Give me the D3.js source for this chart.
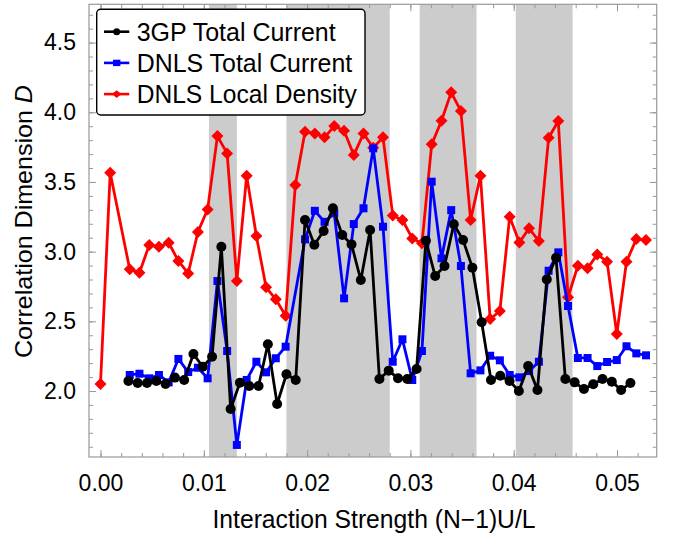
<!DOCTYPE html>
<html>
<head>
<meta charset="utf-8">
<script src="https://cdn.jsdelivr.net/npm/d3@7"></script>
<style>
  body { margin: 0; background: #fff; }
  svg { display: block; font-family: "Liberation Sans", Arial, sans-serif; }
</style>
</head>
<body>
<script>
// DNLS grid (red + blue) and 3GP grid (black)
var redX = [0, 0.00094, 0.00283, 0.00377, 0.00472, 0.00566, 0.00660, 0.00754, 0.00849, 0.00943,
  0.01037, 0.01132, 0.01226, 0.01320, 0.01415, 0.01509, 0.01603, 0.01697, 0.01792, 0.01886,
  0.01980, 0.02075, 0.02169, 0.02263, 0.02358, 0.02452, 0.02546, 0.02640, 0.02735, 0.02829,
  0.02923, 0.03018, 0.03112, 0.03206, 0.03301, 0.03395, 0.03489, 0.03583, 0.03678, 0.03772,
  0.03866, 0.03961, 0.04055, 0.04149, 0.04244, 0.04338, 0.04432, 0.04526, 0.04621, 0.04715,
  0.04809, 0.04904, 0.04998, 0.05092, 0.05187, 0.05281];
var redY = [2.05, 3.566, 2.873, 2.849, 3.047, 3.035, 3.064, 2.933, 2.844, 3.141,
  3.303, 3.829, 3.705, 2.789, 3.545, 3.112, 2.744, 2.658, 2.540, 3.478,
  3.860, 3.848, 3.820, 3.901, 3.867, 3.693, 3.848, 3.745, 3.820, 3.260,
  3.227, 3.095, 3.060, 3.770, 3.939, 4.143, 4.009, 3.227, 3.545, 2.516,
  2.574, 3.250, 3.066, 3.167, 3.076, 3.817, 3.937, 2.672, 2.899, 2.880,
  2.980, 2.928, 2.409, 2.928, 3.090, 3.083];

var blueX = [0.00283, 0.00377, 0.00472, 0.00566, 0.00660, 0.00754, 0.00849, 0.00943,
  0.01037, 0.01132, 0.01226, 0.01320, 0.01415, 0.01509, 0.01603, 0.01697, 0.01792,
  0.01980, 0.02075, 0.02169, 0.02263, 0.02358, 0.02452, 0.02546, 0.02640, 0.02735, 0.02829,
  0.02923, 0.03018, 0.03112, 0.03206, 0.03301, 0.03395, 0.03489, 0.03583, 0.03678, 0.03772,
  0.03866, 0.03961, 0.04055, 0.04149, 0.04244, 0.04338, 0.04432, 0.04526, 0.04621, 0.04715,
  0.04809, 0.04904, 0.04998, 0.05092, 0.05187, 0.05281];
var blueY = [2.115, 2.124, 2.091, 2.115, 2.062, 2.230, 2.136, 2.167,
  2.091, 2.789, 2.287, 1.613, 2.079, 2.210, 2.134, 2.235, 2.318,
  3.088, 3.293, 3.214, 3.275, 2.665, 3.198, 3.311, 3.741, 3.179, 2.210,
  2.371, 2.079, 2.287, 3.502, 2.952, 3.298, 2.897, 2.127, 2.148, 2.253,
  2.220, 2.115, 2.098, 2.143, 2.210, 2.863, 2.995, 2.610, 2.237, 2.237,
  2.179, 2.208, 2.222, 2.321, 2.270, 2.256];

var blackX = [0.0027, 0.0036, 0.0045, 0.0054, 0.0063, 0.0072, 0.0081, 0.0090, 0.0099, 0.0108,
  0.0117, 0.0126, 0.0135, 0.0144, 0.0153, 0.0162, 0.0171, 0.0180, 0.0189, 0.0198,
  0.0207, 0.0216, 0.0225, 0.0234, 0.0243, 0.0252, 0.0261, 0.0270, 0.0279, 0.0288,
  0.0297, 0.0306, 0.0315, 0.0324, 0.0333, 0.0342, 0.0351, 0.0360, 0.0369, 0.0378,
  0.0387, 0.0396, 0.0405, 0.0414, 0.0423, 0.0432, 0.0441, 0.0450, 0.0459, 0.0468,
  0.0477, 0.0486, 0.0495, 0.0504, 0.0513];
var blackY = [2.072, 2.057, 2.057, 2.072, 2.050, 2.096, 2.079, 2.265, 2.174, 2.246,
  3.035, 1.871, 2.060, 2.036, 2.036, 2.335, 1.907, 2.120, 2.079, 3.227,
  3.050, 3.148, 3.311, 3.119, 3.052, 2.796, 3.155, 2.086, 2.146, 2.091,
  2.086, 2.158, 3.078, 2.825, 2.897, 3.196, 3.083, 2.885, 2.493, 2.079,
  2.110, 2.072, 2.000, 2.179, 2.007, 2.801, 2.956, 2.086, 2.062, 2.014,
  2.048, 2.086, 2.067, 2.007, 2.057];

// shaded bands
var bandStart = [0.0105, 0.0180, 0.0309, 0.0402];
var bandEnd = [0.0132, 0.0280, 0.0364, 0.0457];

var xTicks = [0, 0.01, 0.02, 0.03, 0.04, 0.05];
var yTicks = [2.0, 2.5, 3.0, 3.5, 4.0, 4.5];

var seriesNames = ["3GP Total Current", "DNLS Total Current", "DNLS Local Density"];
var seriesColors = ["#000000", "#0000ff", "#ff0000"];

var svgWidth = 673, svgHeight = 535;
var plotLeft = 89, plotRight = 656.7, plotTop = 4.3, plotBottom = 457;

var svg = d3.select("body").append("svg")
  .attr("width", svgWidth)
  .attr("height", svgHeight);

var xScale = d3.scaleLinear().domain([-0.001113, 0.053843]).range([plotLeft, plotRight]);
var yScale = d3.scaleLinear().domain([1.5264, 4.7749]).range([plotBottom, plotTop]);

// bands
svg.append("g").selectAll("rect")
  .data(bandStart)
  .enter().append("rect")
  .attr("x", (d, i) => xScale(d))
  .attr("y", plotTop)
  .attr("width", (d, i) => xScale(bandEnd[i]) - xScale(d))
  .attr("height", plotBottom - plotTop)
  .attr("fill", "#cccccc");

// axes (ticks inward, on all four sides)
var frameColor = "#999999";
var minorX = d3.range(0, 0.0539, 0.002);
var minorY = d3.range(1.6, 4.78, 0.1);

function styleAxis(g) {
  g.select(".domain").remove();
  g.selectAll("line").attr("stroke", frameColor);
}

svg.append("g").attr("transform", `translate(0,${plotBottom})`)
  .call(d3.axisBottom(xScale).tickValues(minorX).tickSize(-4).tickFormat(""))
  .call(styleAxis);
svg.append("g").attr("transform", `translate(0,${plotBottom})`)
  .call(d3.axisBottom(xScale).tickValues(xTicks).tickSize(-7).tickPadding(18)
    .tickFormat(d3.format(".2f")))
  .call(styleAxis)
  .call(g => g.selectAll("text").attr("font-size", 23).attr("fill", "#000")
    .attr("font-family", "Liberation Sans, Arial, sans-serif"));
svg.append("g").attr("transform", `translate(0,${plotTop})`)
  .call(d3.axisTop(xScale).tickValues(minorX).tickSize(-4).tickFormat(""))
  .call(styleAxis);
svg.append("g").attr("transform", `translate(0,${plotTop})`)
  .call(d3.axisTop(xScale).tickValues(xTicks).tickSize(-7).tickFormat(""))
  .call(styleAxis);

svg.append("g").attr("transform", `translate(${plotLeft},0)`)
  .call(d3.axisLeft(yScale).tickValues(minorY).tickSize(-4).tickFormat(""))
  .call(styleAxis);
svg.append("g").attr("transform", `translate(${plotLeft},0)`)
  .call(d3.axisLeft(yScale).tickValues(yTicks).tickSize(-7).tickPadding(13)
    .tickFormat(d3.format(".1f")))
  .call(styleAxis)
  .call(g => g.selectAll("text").attr("font-size", 23).attr("fill", "#000")
    .attr("font-family", "Liberation Sans, Arial, sans-serif"));
svg.append("g").attr("transform", `translate(${plotRight},0)`)
  .call(d3.axisRight(yScale).tickValues(minorY).tickSize(-4).tickFormat(""))
  .call(styleAxis);
svg.append("g").attr("transform", `translate(${plotRight},0)`)
  .call(d3.axisRight(yScale).tickValues(yTicks).tickSize(-7).tickFormat(""))
  .call(styleAxis);

svg.append("rect")
  .attr("x", plotLeft).attr("y", plotTop)
  .attr("width", plotRight - plotLeft).attr("height", plotBottom - plotTop)
  .attr("fill", "none").attr("stroke", frameColor).attr("stroke-width", 1.2);

// series
var diamond = "M0,-6L6,0L0,6L-6,0Z";
var square = "M-4,-4H4V4H-4Z";

function drawSeries(xs, ys, color, marker) {
  var pts = xs.map((x, i) => [x, ys[i]]);
  var line = d3.line().x(d => xScale(d[0])).y(d => yScale(d[1]));
  var g = svg.append("g");
  g.append("path").datum(pts)
    .attr("d", line)
    .attr("fill", "none")
    .attr("stroke", color)
    .attr("stroke-width", 2.8)
    .attr("stroke-linejoin", "round");
  var m = g.selectAll(".pt").data(pts).enter();
  if (marker === "circle") {
    m.append("circle").attr("cx", d => xScale(d[0])).attr("cy", d => yScale(d[1]))
      .attr("r", 5).attr("fill", color);
  } else {
    m.append("path").attr("d", marker === "square" ? square : diamond)
      .attr("transform", d => `translate(${xScale(d[0])},${yScale(d[1])})`)
      .attr("fill", color);
  }
}

drawSeries(redX, redY, seriesColors[2], "diamond");
drawSeries(blueX, blueY, seriesColors[1], "square");
drawSeries(blackX, blackY, seriesColors[0], "circle");

// legend
var legend = svg.append("g");
legend.append("rect")
  .attr("x", 96.7).attr("y", 9.3)
  .attr("width", 268.3).attr("height", 105.7)
  .attr("rx", 4)
  .attr("fill", "#fff").attr("stroke", "#000").attr("stroke-width", 1.4);

var legendMarkers = ["circle", "square", "diamond"];
var legendWidths = [199, 215.5, 220];
seriesNames.forEach(function(name, i) {
  var cy = 31.7 + i * 31.2;
  legend.append("line")
    .attr("x1", 104).attr("x2", 129.3).attr("y1", cy).attr("y2", cy)
    .attr("stroke", seriesColors[i]).attr("stroke-width", 2.6);
  if (legendMarkers[i] === "circle") {
    legend.append("circle").attr("cx", 116.7).attr("cy", cy).attr("r", 3.5).attr("fill", seriesColors[i]);
  } else if (legendMarkers[i] === "square") {
    legend.append("rect").attr("x", 113).attr("y", cy - 3.2).attr("width", 7.4).attr("height", 6.4).attr("fill", seriesColors[i]);
  } else {
    legend.append("path").attr("d", "M0,-3.8L4.8,0L0,3.8L-4.8,0Z")
      .attr("transform", `translate(116.7,${cy})`).attr("fill", seriesColors[i]);
  }
  legend.append("text")
    .attr("x", 136.7).attr("y", cy + 9.3)
    .attr("font-size", 26)
    .attr("textLength", legendWidths[i])
    .attr("lengthAdjust", "spacingAndGlyphs")
    .text(name);
});

// axis titles
svg.append("text")
  .attr("x", 374).attr("y", 528)
  .attr("text-anchor", "middle")
  .attr("font-size", 25)
  .attr("textLength", 323)
  .attr("lengthAdjust", "spacingAndGlyphs")
  .text("Interaction Strength (N\u22121)U/L");

var yTitle = svg.append("text")
  .attr("transform", "translate(32,221.5) rotate(-90)")
  .attr("text-anchor", "middle")
  .attr("font-size", 24)
  .attr("textLength", 273)
  .attr("lengthAdjust", "spacingAndGlyphs");
yTitle.append("tspan").text("Correlation Dimension ");
yTitle.append("tspan").attr("font-style", "italic").text("D");
</script>
</body>
</html>
